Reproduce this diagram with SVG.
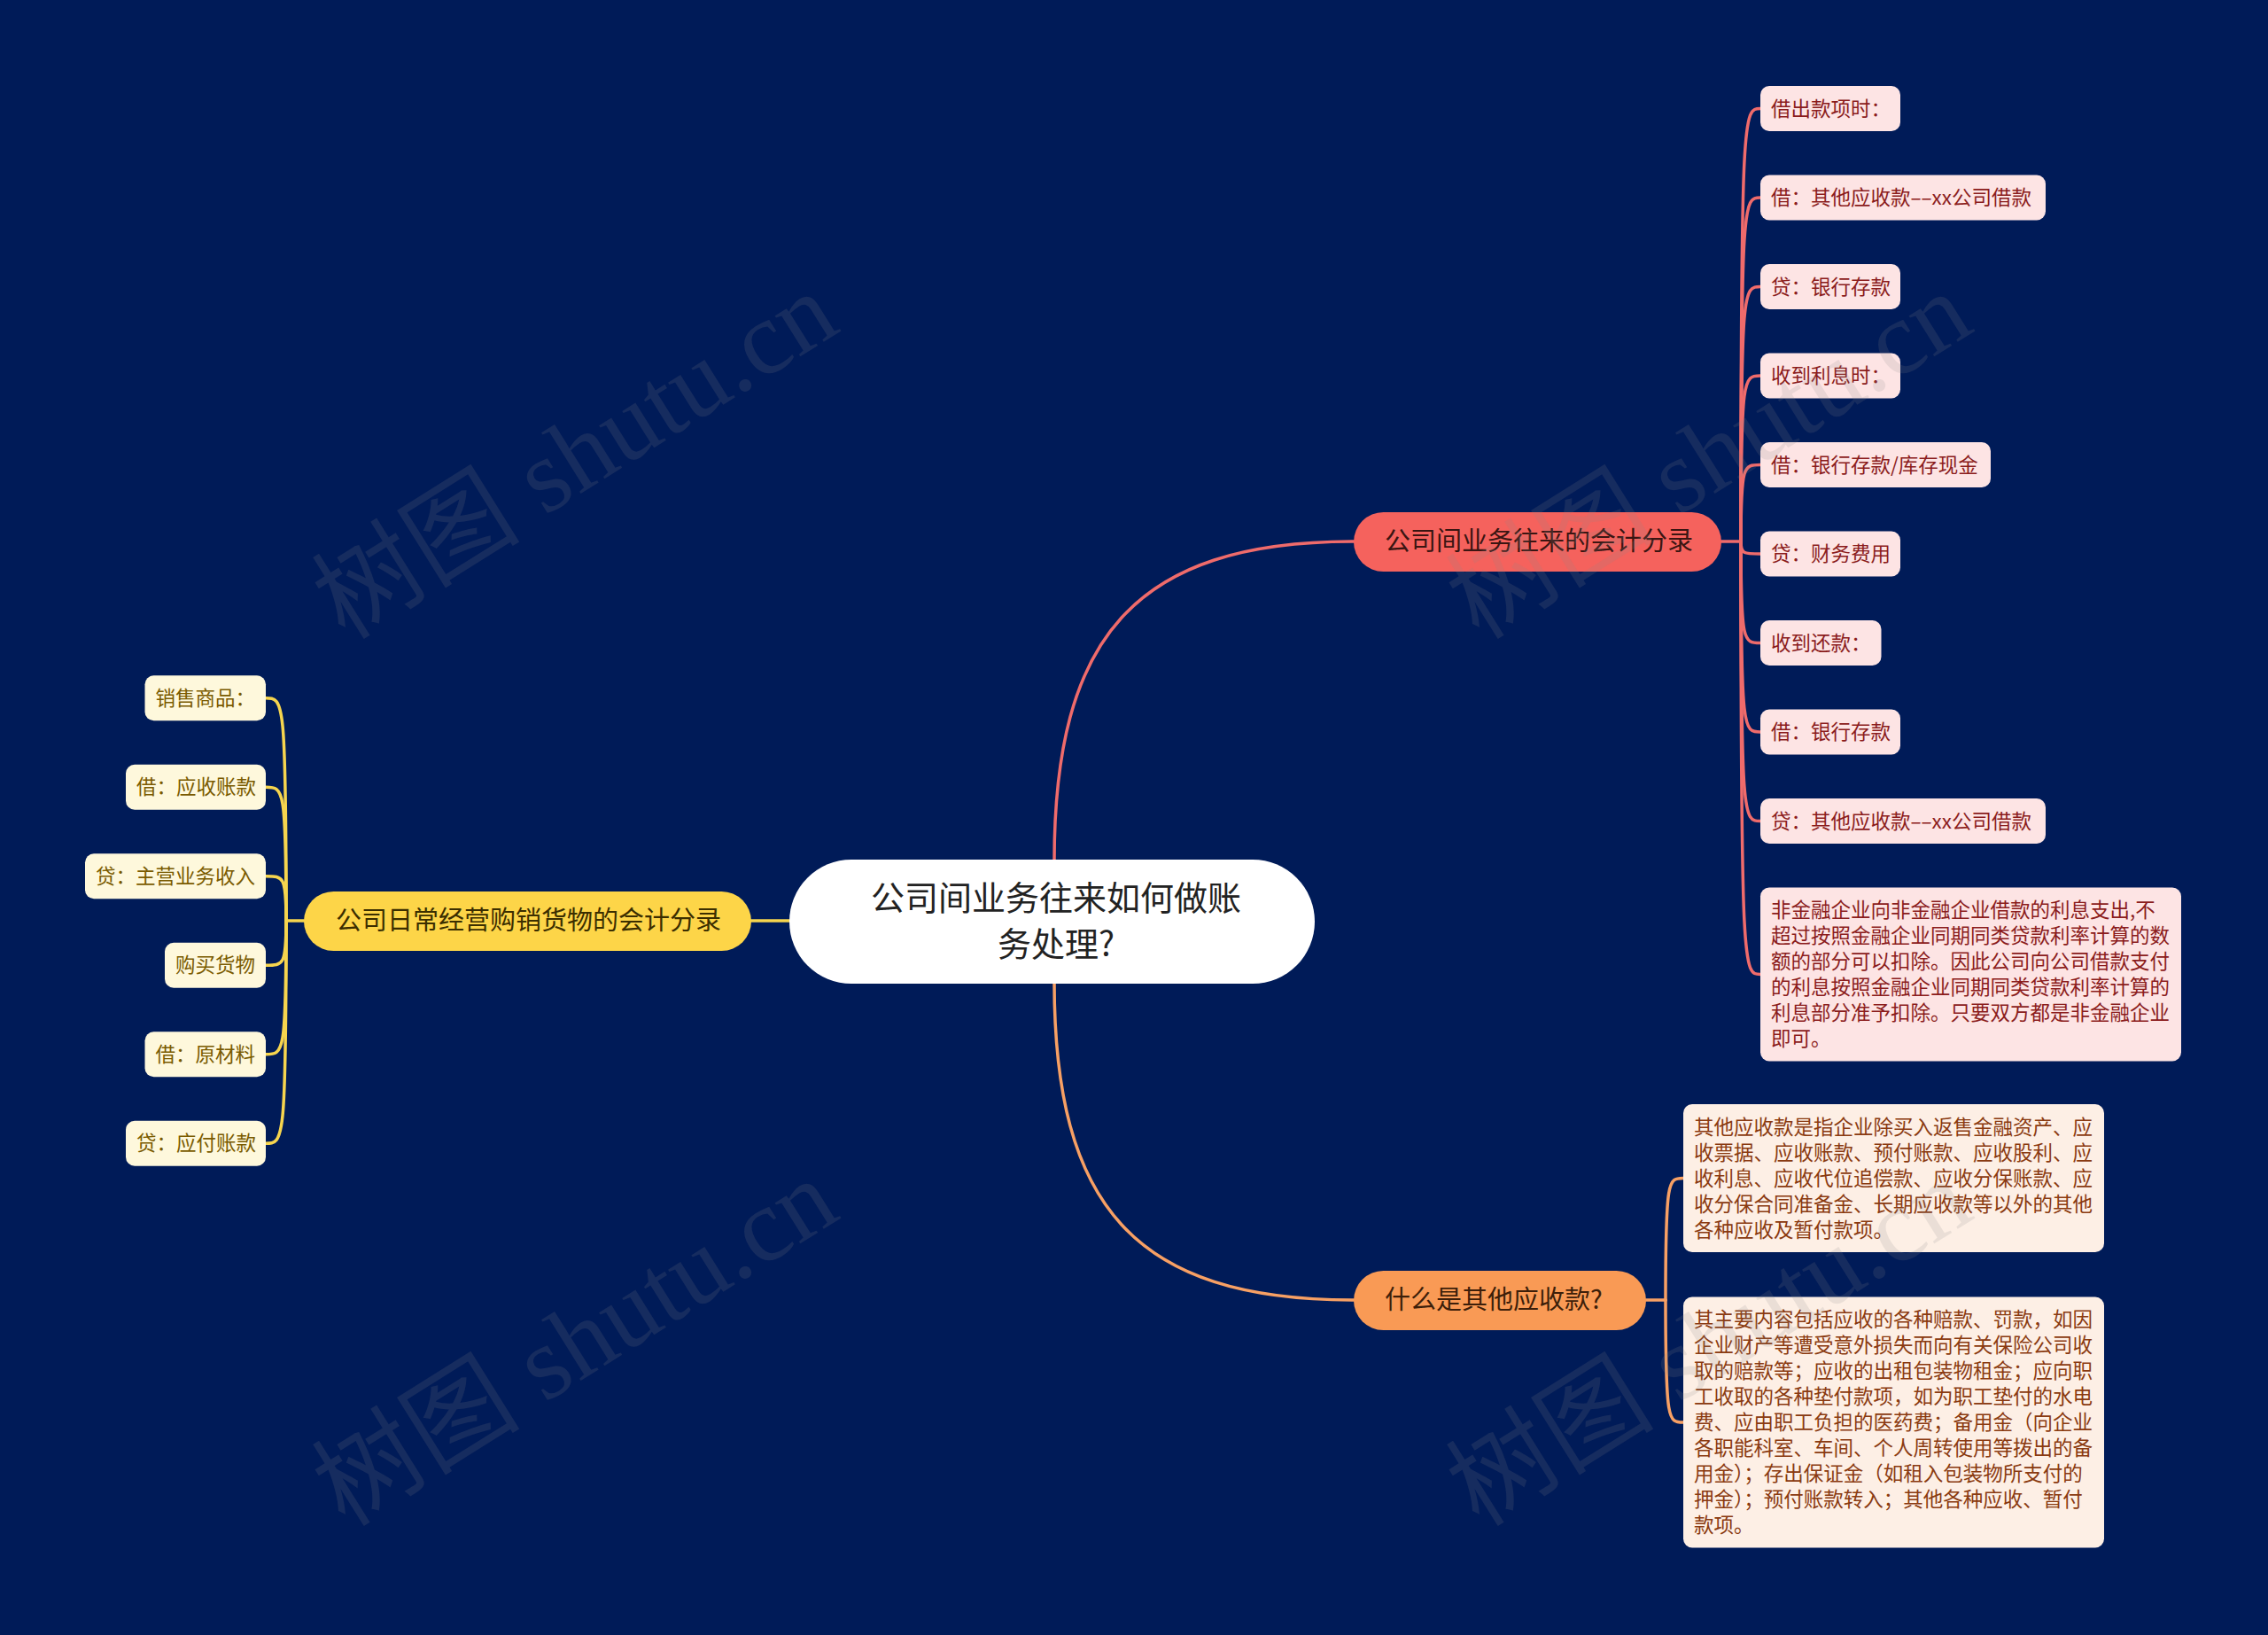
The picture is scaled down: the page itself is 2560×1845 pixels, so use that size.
<svg xmlns="http://www.w3.org/2000/svg" width="2560" height="1845" viewBox="0 0 2560 1845">
<style>
text{font-family:"Noto Sans CJK SC","Noto Sans",sans-serif}
.c{fill:none;stroke-width:3.5;stroke-linecap:round}
.cr{stroke:#ef6b6b}.co{stroke:#f7a064}.cy{stroke:#f6d54e}
.br{font-size:29px}
.lf{font-size:22.5px}
.rl rect{fill:#fde4e4}.rl text{fill:#8b1c1c}
.yl rect{fill:#fef8dc}.yl text{fill:#7a5b00}
.ol rect{fill:#fdefe5}.ol text{fill:#8a3a10}
.wm{font-family:"Liberation Serif","Noto Sans CJK SC",serif;font-size:118px;fill:#8a8a8a;fill-opacity:0.16}
</style>
<rect x="0" y="0" width="2560" height="1845" fill="#001b58"/>
<g id="connectors">
<path class="c cr" d="M1190 972 C1190 720 1280 611 1528 611"/>
<path class="c co" d="M1190 1108 C1190 1360 1280 1467 1528 1467"/>
<path class="c cy" d="M891 1039 L847 1039"/>
<path class="c cr" d="M1943 611 L1965 611"/>
<path class="c cr" d="M1965 611 C1965 122.5 1968 122.5 1987 122.5"/>
<path class="c cr" d="M1965 611 C1965 223 1968 223 1987 223"/>
<path class="c cr" d="M1965 611 C1965 323.5 1968 323.5 1987 323.5"/>
<path class="c cr" d="M1965 611 C1965 424 1968 424 1987 424"/>
<path class="c cr" d="M1965 611 C1965 524.5 1968 524.5 1987 524.5"/>
<path class="c cr" d="M1965 611 C1965 625 1968 625 1987 625"/>
<path class="c cr" d="M1965 611 C1965 725.5 1968 725.5 1987 725.5"/>
<path class="c cr" d="M1965 611 C1965 826 1968 826 1987 826"/>
<path class="c cr" d="M1965 611 C1965 926.5 1968 926.5 1987 926.5"/>
<path class="c cr" d="M1965 611 C1965 1099.5 1968 1099.5 1987 1099.5"/>
<path class="c co" d="M1858 1467 L1880 1467"/>
<path class="c co" d="M1880 1467 C1880 1329.5 1883 1329.5 1900 1329.5"/>
<path class="c co" d="M1880 1467 C1880 1605 1883 1605 1900 1605"/>
<path class="c cy" d="M343 1039 L323 1039"/>
<path class="c cy" d="M323 1039 C323 787.75 320 787.75 300 787.75"/>
<path class="c cy" d="M323 1039 C323 888.25 320 888.25 300 888.25"/>
<path class="c cy" d="M323 1039 C323 988.75 320 988.75 300 988.75"/>
<path class="c cy" d="M323 1039 C323 1089.25 320 1089.25 300 1089.25"/>
<path class="c cy" d="M323 1039 C323 1189.75 320 1189.75 300 1189.75"/>
<path class="c cy" d="M323 1039 C323 1290.25 320 1290.25 300 1290.25"/>
</g>
<g id="root">
<rect x="891" y="970" width="593" height="140" rx="70" fill="#ffffff"/>
<text x="1192" y="1027" font-size="38" fill="#222222" text-anchor="middle">公司间业务往来如何做账</text>
<text x="1192" y="1079" font-size="38" fill="#222222" text-anchor="middle">务处理?</text>
</g>
<g id="branch-red">
<rect x="1528" y="578" width="415" height="67" rx="33.5" fill="#f5625d"/>
<text class="br" x="1563" y="621" fill="#3a1512">公司间业务往来的会计分录</text>
</g>
<g id="branch-yellow">
<rect x="343" y="1006" width="505" height="67" rx="33.5" fill="#fdd548"/>
<text class="br" x="379" y="1049" fill="#3b2e00">公司日常经营购销货物的会计分录</text>
</g>
<g id="branch-orange">
<rect x="1528" y="1434" width="330" height="67" rx="33.5" fill="#f99a55"/>
<text class="br" x="1563" y="1477" fill="#3d1f0a">什么是其他应收款?</text>
</g>
<g class="rl lf">
<g id="r1"><rect x="1987" y="97" width="158" height="51" rx="10"/><text x="1999" y="130.5">借出款项时：</text></g>
<g id="r2"><rect x="1987" y="197.5" width="322" height="51" rx="10"/><text x="1999" y="231">借：其他应收款––xx公司借款</text></g>
<g id="r3"><rect x="1987" y="298" width="158" height="51" rx="10"/><text x="1999" y="331.5">贷：银行存款</text></g>
<g id="r4"><rect x="1987" y="398.5" width="158" height="51" rx="10"/><text x="1999" y="432">收到利息时：</text></g>
<g id="r5"><rect x="1987" y="499" width="260" height="51" rx="10"/><text x="1999" y="532.5">借：银行存款/库存现金</text></g>
<g id="r6"><rect x="1987" y="599.5" width="158" height="51" rx="10"/><text x="1999" y="633">贷：财务费用</text></g>
<g id="r7"><rect x="1987" y="700" width="136.5" height="51" rx="10"/><text x="1999" y="733.5">收到还款：</text></g>
<g id="r8"><rect x="1987" y="800.5" width="158" height="51" rx="10"/><text x="1999" y="834">借：银行存款</text></g>
<g id="r9"><rect x="1987" y="901" width="322" height="51" rx="10"/><text x="1999" y="934.5">贷：其他应收款––xx公司借款</text></g>
<g id="r10"><rect x="1987" y="1001.5" width="475" height="196" rx="10"/>
<text x="1999" y="1035">非金融企业向非金融企业借款的利息支出,不</text>
<text x="1999" y="1064">超过按照金融企业同期同类贷款利率计算的数</text>
<text x="1999" y="1093">额的部分可以扣除。因此公司向公司借款支付</text>
<text x="1999" y="1122">的利息按照金融企业同期同类贷款利率计算的</text>
<text x="1999" y="1151">利息部分准予扣除。只要双方都是非金融企业</text>
<text x="1999" y="1180">即可。</text></g>
</g>
<g class="yl lf">
<g id="y1"><rect x="163.5" y="762.25" width="136.5" height="51" rx="10"/><text x="175.5" y="795.75">销售商品：</text></g>
<g id="y2"><rect x="142" y="862.75" width="158" height="51" rx="10"/><text x="154" y="896.25">借：应收账款</text></g>
<g id="y3"><rect x="96" y="963.25" width="204" height="51" rx="10"/><text x="108" y="996.75">贷：主营业务收入</text></g>
<g id="y4"><rect x="186" y="1063.75" width="114" height="51" rx="10"/><text x="198" y="1097.25">购买货物</text></g>
<g id="y5"><rect x="163.5" y="1164.25" width="136.5" height="51" rx="10"/><text x="175.5" y="1197.75">借：原材料</text></g>
<g id="y6"><rect x="142" y="1264.75" width="158" height="51" rx="10"/><text x="154" y="1298.25">贷：应付账款</text></g>
</g>
<g class="ol lf">
<g id="o1"><rect x="1900" y="1246" width="475" height="167" rx="10"/>
<text x="1912" y="1279.5">其他应收款是指企业除买入返售金融资产、应</text>
<text x="1912" y="1308.5">收票据、应收账款、预付账款、应收股利、应</text>
<text x="1912" y="1337.5">收利息、应收代位追偿款、应收分保账款、应</text>
<text x="1912" y="1366.5">收分保合同准备金、长期应收款等以外的其他</text>
<text x="1912" y="1395.5">各种应收及暂付款项。</text></g>
<g id="o2"><rect x="1900" y="1463.5" width="475" height="283" rx="10"/>
<text x="1912" y="1497">其主要内容包括应收的各种赔款、罚款，如因</text>
<text x="1912" y="1526">企业财产等遭受意外损失而向有关保险公司收</text>
<text x="1912" y="1555">取的赔款等；应收的出租包装物租金；应向职</text>
<text x="1912" y="1584">工收取的各种垫付款项，如为职工垫付的水电</text>
<text x="1912" y="1613">费、应由职工负担的医药费；备用金（向企业</text>
<text x="1912" y="1642">各职能科室、车间、个人周转使用等拨出的备</text>
<text x="1912" y="1671">用金）；存出保证金（如租入包装物所支付的</text>
<text x="1912" y="1700">押金）；预付账款转入；其他各种应收、暂付</text>
<text x="1912" y="1729">款项。</text></g>
</g>
<g id="watermarks">
<text class="wm" text-anchor="middle" transform="translate(649 514) rotate(-32)" y="40">树图 shutu.cn</text>
<text class="wm" text-anchor="middle" transform="translate(1929 514) rotate(-32)" y="40">树图 shutu.cn</text>
<text class="wm" text-anchor="middle" transform="translate(649 1515) rotate(-32)" y="40">树图 shutu.cn</text>
<text class="wm" text-anchor="middle" transform="translate(1929 1515) rotate(-32)" y="40">树图 shutu.cn</text>
</g>
</svg>
